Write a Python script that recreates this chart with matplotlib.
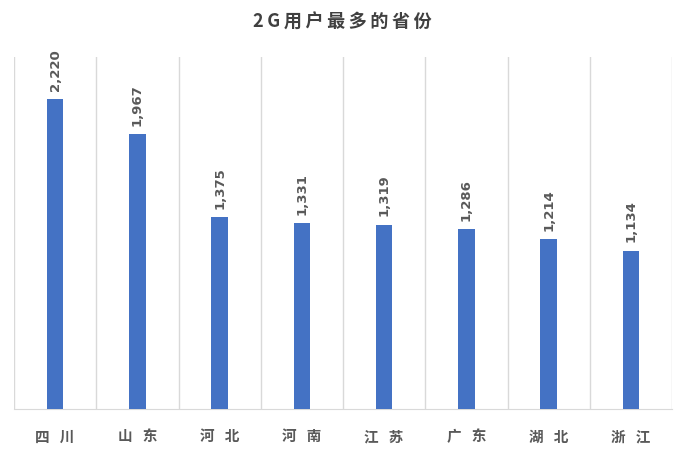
import matplotlib
matplotlib.use("Agg")
import matplotlib.pyplot as plt
import numpy as np

plt.rcParams['font.family'] = ['Noto Sans CJK SC', 'DejaVu Sans']

categories = ["四川", "山东", "河北", "河南", "江苏", "广东", "湖北", "浙江"]
values = [2220, 1967, 1375, 1331, 1319, 1286, 1214, 1134]
title = "2G用户最多的省份"

fig = plt.figure(figsize=(6.85, 4.51), dpi=100)
ax = fig.add_axes([14/685, 1-409/451, (672-14)/685, (409-57)/451])

x = np.arange(len(categories))
ax.bar(x, values, width=0.2, color="#4472C4", zorder=3)
ax.set_xlim(-0.5, len(categories)-0.5)
ax.set_ylim(0, 2521)

for xi, v in zip(x, values):
    ax.annotate(f"{v:,}", (xi, v), xytext=(0, 6), textcoords="offset points",
                rotation=90, ha="center", va="bottom", fontsize=9.5,
                fontweight="bold", color="#595959", family="DejaVu Sans")

ax.set_xticks(x)
ax.set_xticklabels(["\u2002\u2009".join(c) for c in categories], fontsize=10.5,
                   fontweight="bold", color="#595959",
                   family=['Noto Sans CJK SC', 'DejaVu Sans'])
ax.tick_params(axis="x", length=0, pad=14)
ax.set_yticks([])
ax.set_xticks(np.arange(-0.5, len(categories)), minor=True)
ax.tick_params(axis="x", which="minor", length=0)
ax.grid(axis="x", which="minor", color="#D9D9D9", linewidth=1, zorder=0)
ax.grid(axis="x", which="major", visible=False)
for s in ["top", "right", "left"]:
    ax.spines[s].set_visible(False)
ax.spines["bottom"].set_color("#D9D9D9")

fig.text(0.5, 1-22/451, "\u2009".join(title), ha="center", va="center", fontsize=13,
         fontweight="bold", color="#404040",
         family=['Noto Sans CJK SC', 'DejaVu Sans'])

fig.savefig("out.png", dpi=100)
